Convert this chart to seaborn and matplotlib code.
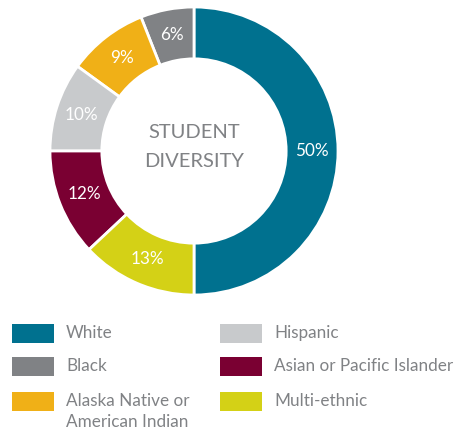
import matplotlib
matplotlib.use("Agg")
import matplotlib.pyplot as plt
from matplotlib.patches import Rectangle
import seaborn as sns

groups = ["White", "Black", "Alaska Native or\nAmerican Indian", "Hispanic",
          "Asian or Pacific Islander", "Multi-ethnic"]
shares = [50, 6, 9, 10, 12, 13]
colors = ["#00718f", "#808285", "#f0b017", "#c8cacc", "#7a0032", "#d4d116"]

sns.set_theme(style="white")
plt.rcParams["font.family"] = ["Lato", "DejaVu Sans"]
text_gray = "#808285"

fig = plt.figure(figsize=(4.67, 4.33), dpi=100)
ax = fig.add_axes([(194 - 144) / 467, (433 - 151 - 144) / 433, 288 / 467, 288 / 433])

wedges, texts, autotexts = ax.pie(
    shares, colors=colors, startangle=-90, counterclock=True,
    autopct="%d%%", pctdistance=0.82,
    wedgeprops=dict(width=0.36, edgecolor="white", linewidth=2),
    textprops=dict(color="white", fontsize=12.3))
ax.set_xlim(-1, 1)
ax.set_ylim(-1, 1)
ax.set_aspect("equal")
ax.text(0, 0.13, "STUDENT", ha="center", va="center", color=text_gray, fontsize=14.5)
ax.text(0, -0.07, "DIVERSITY", ha="center", va="center", color=text_gray, fontsize=14.5)

# legend drawn by hand: two columns, patch aligned with first text line
col_x = [12, 220]
row_top = [324, 357, 392]
for i, (lab, col) in enumerate(zip(groups, colors)):
    c, r = divmod(i, 3)
    x0 = col_x[c]
    y0 = row_top[r]
    fig.add_artist(Rectangle((x0 / 467, 1 - (y0 + 19) / 433), 42 / 467, 19 / 433,
                             transform=fig.transFigure, facecolor=col, edgecolor="none"))
    for k, line in enumerate(lab.split("\n")):
        fig.text((x0 + 54) / 467, 1 - (y0 + 14 + 21 * k) / 433, line, ha="left",
                 va="baseline", color=text_gray, fontsize=12.3)

fig.savefig("out.png", dpi=100)
